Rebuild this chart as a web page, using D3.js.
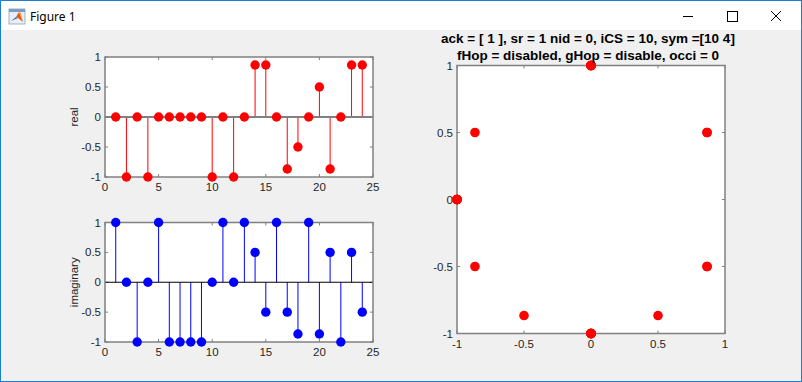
<!DOCTYPE html>
<html><head><meta charset="utf-8">
<script src="https://cdn.jsdelivr.net/npm/d3@7"></script>
<style>
html,body{margin:0;padding:0;background:#f0f0f0;overflow:hidden;}
svg{display:block;}
</style></head>
<body>
<script>
// ---- data ----
const sampleIndex = d3.range(1, 25);
const realValues = [0,-1,0,-1,0,0,0,0,0,-1,0,-1,0,0.866,0.866,0,-0.866,-0.5,0,0.5,-0.866,0,0.866,0.866];
const imagValues = [1,0,-1,0,1,-1,-1,-1,-1,0,1,0,1,0.5,-0.5,1,-0.5,-0.866,1,-0.866,0.5,-1,0.5,-0.5];
const stemXTicks = [0,5,10,15,20,25];
const stemYTicks = [-1,-0.5,0,0.5,1];
const iqTicks = [-1,-0.5,0,0.5,1];
const titleLines = ["ack = [ 1 ], sr = 1 nid = 0, iCS = 10, sym =[10 4]", "fHop = disabled, gHop = disable, occi = 0"];
const windowTitle = "Figure 1";

const W = 802, H = 382;
const svg = d3.select("body").append("svg").attr("width", W).attr("height", H);

// ---- window chrome ----
svg.append("rect").attr("x",0).attr("y",0).attr("width",W).attr("height",H).attr("fill","#f0f0f0");
svg.append("rect").attr("x",0).attr("y",0).attr("width",W).attr("height",30).attr("fill","#ffffff");
svg.append("rect").attr("x",0.5).attr("y",0.5).attr("width",W-1).attr("height",H-1).attr("fill","none").attr("stroke","#1a7fd4").attr("stroke-width",1);
// icon
const ic = svg.append("g").attr("transform","translate(9,9)");
ic.append("rect").attr("x",0).attr("y",0).attr("width",16).attr("height",15).attr("fill","#e8eef5").attr("stroke","#8aa0b8").attr("stroke-width",0.8);
ic.append("rect").attr("x",0).attr("y",0).attr("width",16).attr("height",3).attr("fill","#7a9cc4");
ic.append("path").attr("d","M2,12 L7,8 L9,9 Z").attr("fill","#2f6db5");
ic.append("path").attr("d","M7,8 L10,3 L14,13 L9,9 Z").attr("fill","#e05a1a");
ic.append("path").attr("d","M10,3 L12,4 L14,13 Z").attr("fill","#f3a23a");
svg.append("text").attr("x",30).attr("y",21).text(windowTitle)
  .attr("font-family","'Noto Sans', 'Open Sans', sans-serif").attr("font-size",12).attr("fill","#000");
// controls
svg.append("line").attr("x1",683).attr("x2",693).attr("y1",16.5).attr("y2",16.5).attr("stroke","#000").attr("stroke-width",1);
svg.append("rect").attr("x",727.5).attr("y",11.5).attr("width",10).attr("height",10).attr("fill","none").attr("stroke","#000").attr("stroke-width",1);
svg.append("path").attr("d","M771,11 L781,21 M781,11 L771,21").attr("stroke","#000").attr("stroke-width",1);

const tickFont = "'Liberation Sans', Arial, sans-serif";
const axisColor = "#808080";
const textColor = "#262626";

function drawAxes(g, x, y, xTicks, yTicks, xFmt, yFmt) {
  const [x0, x1] = x.range();
  const [y0, y1] = y.range(); // y0 bottom, y1 top
  g.append("rect").attr("x",x0).attr("y",y1).attr("width",x1-x0).attr("height",y0-y1).attr("fill","#fff");
  const tl = 3;
  xTicks.forEach(t => {
    const px = x(t);
    g.append("line").attr("x1",px).attr("x2",px).attr("y1",y0).attr("y2",y0-tl).attr("stroke",axisColor);
    g.append("line").attr("x1",px).attr("x2",px).attr("y1",y1).attr("y2",y1+tl).attr("stroke",axisColor);
    g.append("text").attr("x",px).attr("y",y0+14).attr("text-anchor","middle").text(xFmt(t))
      .attr("font-family",tickFont).attr("font-size",11.5).attr("fill",textColor);
  });
  yTicks.forEach(t => {
    const py = y(t);
    g.append("line").attr("x1",x0).attr("x2",x0+tl).attr("y1",py).attr("y2",py).attr("stroke",axisColor);
    g.append("line").attr("x1",x1).attr("x2",x1-tl).attr("y1",py).attr("y2",py).attr("stroke",axisColor);
    g.append("text").attr("x",x0-4).attr("y",py+4).attr("text-anchor","end").text(yFmt(t))
      .attr("font-family",tickFont).attr("font-size",11.5).attr("fill",textColor);
  });
}
function drawBox(g, x, y) {
  const [x0, x1] = x.range();
  const [y0, y1] = y.range();
  g.append("rect").attr("x",x0).attr("y",y1).attr("width",x1-x0).attr("height",y0-y1)
    .attr("fill","none").attr("stroke",axisColor).attr("stroke-width",1.5);
}
const fmt = d => String(d);

function stemPlot(top, bottom, values, color, baseColor, baseWidth, label) {
  const x = d3.scaleLinear().domain([0,25]).range([105,373]);
  const y = d3.scaleLinear().domain([-1,1]).range([bottom, top]);
  const g = svg.append("g");
  drawAxes(g, x, y, stemXTicks, stemYTicks, fmt, fmt);
  g.selectAll(".stem").data(values).join("line")
    .attr("x1",(d,i)=>x(sampleIndex[i])).attr("x2",(d,i)=>x(sampleIndex[i]))
    .attr("y1",y(0)).attr("y2",d=>y(d)).attr("stroke",color).attr("stroke-width",1);
  g.append("line").attr("x1",x(0)).attr("x2",x(25)).attr("y1",y(0)).attr("y2",y(0))
    .attr("stroke",baseColor).attr("stroke-width",baseWidth);
  drawBox(g, x, y);
  g.selectAll(".mk").data(values).join("circle")
    .attr("cx",(d,i)=>x(sampleIndex[i])).attr("cy",d=>y(d)).attr("r",4.7).attr("fill",color);
  g.append("text").attr("transform",`translate(78,${(top+bottom)/2}) rotate(-90)`)
    .attr("text-anchor","middle").text(label)
    .attr("font-family",tickFont).attr("font-size",11.5).attr("fill",textColor);
}
stemPlot(57, 177, realValues, "#ff0000", "#808080", 2, "real");
stemPlot(222.5, 342, imagValues, "#0000ff", "#000000", 1.2, "imaginary");

// ---- constellation ----
{
  const x = d3.scaleLinear().domain([-1,1]).range([457,725]);
  const y = d3.scaleLinear().domain([-1,1]).range([333.5,65.5]);
  const g = svg.append("g");
  drawAxes(g, x, y, iqTicks, iqTicks, fmt, fmt);
  drawBox(g, x, y);
  g.selectAll(".pt").data(realValues).join("circle")
    .attr("cx",d=>x(d)).attr("cy",(d,i)=>y(imagValues[i])).attr("r",4.8).attr("fill","#ff0000");
  titleLines.forEach((t,i) => {
    g.append("text").attr("x",588).attr("y",42.5 + i*17).attr("text-anchor","middle").text(t)
      .attr("font-family",tickFont).attr("font-weight","bold").attr("font-size",13.5).attr("fill","#000");
  });
}
</script>
</body></html>
